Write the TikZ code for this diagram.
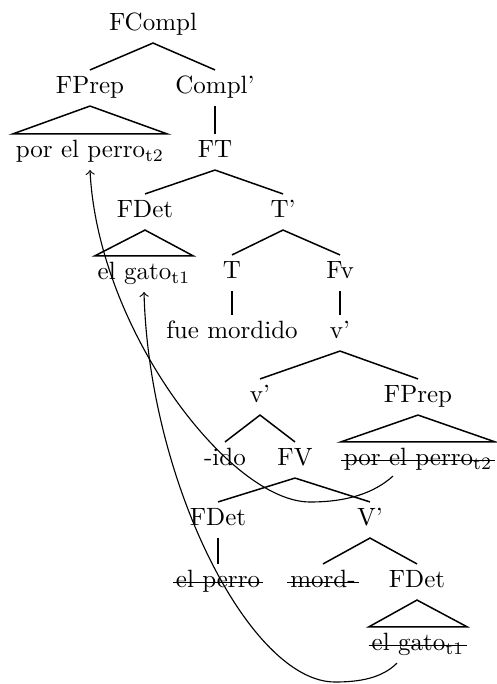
\documentclass[tikz,border=0pt]{standalone}
\usepackage{tikz}
\usetikzlibrary{calc, positioning}

\begin{document}
\begin{tikzpicture}[
    x=0.4pt, y=-0.4pt,
    every node/.style={inner xsep=1pt, inner ysep=2.5pt, text height=1.6ex, text depth=0.5ex},
    branch/.style={line width=0.6pt},
    move/.style={->, line width=0.45pt},
    strike/.style={line width=0.5pt},
  ]
  \useasboundingbox (0,0) rectangle (497,684);
  % upper part
  \node (fcompl) at (153,25) {FCompl};
  \node (fprepA) at (90,88) {FPrep};
  \node (complbar) at (215,88) {Compl'};
  \node (porA) at (90,152) {por el perro$_{\mathrm{t2}}$};
  \node (ft) at (215,152) {FT};
  \node (fdetA) at (145,212) {FDet};
  \node (tbar) at (283,212) {T'};
  \node (gatoA) at (144,274) {el gato$_{\mathrm{t1}}$};
  \node (t) at (232,273) {T};
  \node (fvsmall) at (340,273) {Fv};
  \node (fue) at (232,333) {fue mordido};
  \node (vbarA) at (340,333) {v'};
  % lower part
  \node (vbarB) at (260,397) {v'};
  \node (fprepB) at (418,397) {FPrep};
  \node (ido) at (225,460) {-ido};
  \node (fv) at (295,460) {FV};
  \node (porB) at (418,460) {por el perro$_{\mathrm{t2}}$};
  \node (fdetB) at (218,520) {FDet};
  \node (vbarC) at (370,520) {V'};
  \node (perro) at (218,582) {el perro};
  \node (mord) at (323,582) {mord-};
  \node (fdetC) at (417,582) {FDet};
  \node (gatoB) at (418,645) {el gato$_{\mathrm{t1}}$};
  % deleted copies
  \foreach \n in {porB, perro, mord, gatoB}
    \draw[strike] ([yshift=2.2pt]\n.base west) -- ([yshift=2.2pt]\n.base east);

  % branches
  \draw[branch] (fprepA.north) -- (fcompl.south) -- (complbar.north);
  \draw[branch] (complbar.south) -- (ft.north);
  \draw[branch] (fdetA.north) -- (ft.south) -- (tbar.north);
  \draw[branch] (t.north) -- (tbar.south) -- (fvsmall.north);
  \draw[branch] (t.south) -- (fue.north);
  \draw[branch] (fvsmall.south) -- (vbarA.north);
  \draw[branch] (vbarB.north) -- (vbarA.south) -- (fprepB.north);
  \draw[branch] (ido.north) -- (vbarB.south) -- (fv.north);
  \draw[branch] (fdetB.north) -- (fv.south) -- (vbarC.north);
  \draw[branch] (fdetB.south) -- (perro.north);
  \draw[branch] (mord.north) -- (vbarC.south) -- (fdetC.north);
  % triangles
  \draw[branch] (fprepA.south) -- (porA.north west) -- (porA.north east) -- cycle;
  \draw[branch] (fdetA.south) -- (gatoA.north west) -- (gatoA.north east) -- cycle;
  \draw[branch] (fprepB.south) -- (porB.north west) -- (porB.north east) -- cycle;
  \draw[branch] (fdetC.south) -- (gatoB.north west) -- (gatoB.north east) -- cycle;

  % movement
  \draw[move] ($(porB.south)+(-25,-2)$) .. controls +(-20,18) and +(35,0) .. (310,502)
    .. controls +(-80,0) and +(8,160) .. (porA.south);
  \draw[move] ($(gatoB.south)+(-21,0)$) .. controls +(-15,15) and +(25,0) .. (335,682)
    .. controls +(-85,0) and +(5,190) .. (gatoA.south);
\end{tikzpicture}
\end{document}
